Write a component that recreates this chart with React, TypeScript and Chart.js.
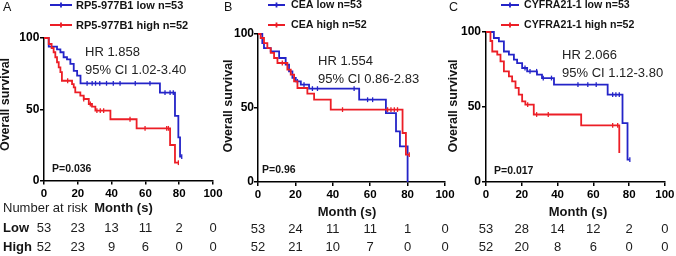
import React, { useEffect, useRef } from "react";
import { Chart, registerables } from "chart.js";

Chart.register(...registerables);

const FAMILY = '"Liberation Sans", Arial, Helvetica, sans-serif';
const BLUE = "#2424c8";
const RED = "#ec1e26";
const INK = "#141414";

// ---------- data ----------
const RISK_TIMES = [0, 20, 40, 60, 80, 100];

// Panel A: RP5-977B1
const A_LOW_T = [0, 2.8, 7.7, 9.7, 11.6, 13.6, 15.6, 17.6, 19.6, 21.6, 68.6, 77.5, 79.5, 80.5];
const A_LOW_S = [100, 94, 92, 90, 86.5, 85, 81.8, 77, 73.6, 68.2, 61.6, 45.3, 30.3, 16.7];
const A_LOW_END = 81.5;
const A_LOW_CENSOR = [25.5, 28.5, 30.5, 33, 37, 41, 45, 54, 62.7, 71.6, 74.6, 76.5, 81.5];
const A_HIGH_T = [0, 2.8, 4.5, 5.7, 6.7, 7.7, 8.7, 9.7, 10.6, 16.6, 17.6, 18.5, 21.5, 23.5, 26.5, 28.4, 30.4, 39.3, 54.8, 74.6, 77.5];
const A_HIGH_S = [100, 95.8, 93, 90, 86.5, 83, 79.4, 76, 70, 67.7, 65.4, 61.9, 59.5, 57.2, 53.7, 51.8, 49, 43, 36.6, 24.9, 12.5];
const A_HIGH_END = 79.5;
const A_HIGH_CENSOR = [14, 23.5, 27.4, 31.3, 33.3, 35.3, 50.9, 59.8, 72.6, 73.6, 79.5];
const A_RISK_LOW = [53, 23, 13, 11, 2, 0];
const A_RISK_HIGH = [52, 23, 9, 6, 0, 0];

// Panel B: CEA
const B_LOW_T = [0, 2.3, 3.2, 6.8, 11.3, 14.8, 16.6, 18.4, 20.2, 22.9, 27.3, 54.1, 68.4, 73.8, 75.9, 80];
const B_LOW_S = [100, 93.9, 90.5, 88.3, 83.8, 79.3, 74.8, 70.3, 68, 65.8, 63.1, 55.6, 46.6, 34.2, 24.1, 0];
const B_LOW_END = 80;
const B_LOW_CENSOR = [21.1, 24.6, 29.1, 31.8, 51.4, 58.6, 61.3];
const B_HIGH_T = [0, 1.4, 3.2, 5, 6.8, 8.6, 10.4, 15.7, 17.5, 19.3, 21.1, 26.4, 30, 38.9, 77.3, 79.1];
const B_HIGH_S = [100, 97.3, 93.9, 90.5, 87.2, 83.8, 80.4, 75.9, 72.5, 68, 63.5, 59.7, 55.6, 48.9, 33.1, 18.5];
const B_HIGH_END = 80.9;
const B_HIGH_CENSOR = [13, 45.2, 69.3, 71.1, 72.9, 74.6, 80.9];
const B_RISK_LOW = [53, 24, 11, 11, 1, 0];
const B_RISK_HIGH = [52, 21, 10, 7, 0, 0];

// Panel C: CYFRA21-1
const C_LOW_T = [0, 4.4, 7.2, 10, 12.8, 15.6, 17.4, 20.2, 23, 28.5, 31.3, 38, 68, 76.3, 79.1];
const C_LOW_S = [100, 96, 93.8, 87, 84.9, 81.6, 79.3, 76, 73.8, 71.6, 69.3, 64.9, 58.2, 39.3, 14.9];
const C_LOW_END = 80.4;
const C_LOW_CENSOR = [21.8, 24.6, 28.3, 32, 36.6, 51.4, 56.9, 61.6, 70.8, 72.6, 74.5, 80.4];
const C_HIGH_T = [0, 2.5, 3.5, 6.3, 8.1, 10, 12.8, 14.6, 16.5, 18.3, 20.2, 22, 26.7, 53.2, 74.5];
const C_HIGH_S = [100, 94, 87, 84.9, 80.4, 73.8, 70.4, 67.1, 62.7, 58.2, 53.8, 51.6, 45, 37.8, 19.3];
const C_HIGH_END = 74.5;
const C_HIGH_CENSOR = [23.3, 28.3, 34.8, 70.8, 73.6];
const C_RISK_LOW = [53, 28, 14, 12, 2, 0];
const C_RISK_HIGH = [52, 20, 8, 6, 0, 0];

// ---------- panel layout ----------
type Curve = { t: number[]; s: number[]; end: number; censor: number[] };
type Panel = {
  letter: string; letterX: number;
  area: { left: number; right: number; top: number; bottom: number };
  yPad: number; xPad: number;
  legLow: string; legHigh: string; legX1: number; legX2: number; legTextX: number; legFont: number;
  hr: string; ci: string; hrX: number; hrY1: number; hrY2: number;
  p: string; pX: number; pY: number;
  titleX: number; titleY: number;
  monthX: number; monthY: number;
  rowLowY: number; rowHighY: number;
  riskLabels: boolean;
  low: Curve; high: Curve;
  riskLow: number[]; riskHigh: number[];
};

const PANELS: Panel[] = [
  {
    letter: "A", letterX: 3,
    area: { left: 44, right: 213, top: 38, bottom: 180.5 },
    yPad: 0.7, xPad: 2,
    legLow: "RP5-977B1 low n=53", legHigh: "RP5-977B1 high n=52", legX1: 50, legX2: 72, legTextX: 76, legFont: 11,
    hr: "HR 1.858", ci: "95% CI 1.02-3.40", hrX: 85, hrY1: 52.7, hrY2: 70,
    p: "P=0.036", pX: 52, pY: 169.5,
    titleX: 6, titleY: 104.5,
    monthX: 123.5, monthY: 208.5,
    rowLowY: 228.5, rowHighY: 247.5,
    riskLabels: true,
    low: { t: A_LOW_T, s: A_LOW_S, end: A_LOW_END, censor: A_LOW_CENSOR },
    high: { t: A_HIGH_T, s: A_HIGH_S, end: A_HIGH_END, censor: A_HIGH_CENSOR },
    riskLow: A_RISK_LOW, riskHigh: A_RISK_HIGH,
  },
  {
    letter: "B", letterX: 224,
    area: { left: 258, right: 445, top: 34, bottom: 182 },
    yPad: 0, xPad: 1.5,
    legLow: "CEA low n=53", legHigh: "CEA high n=52", legX1: 268, legX2: 285, legTextX: 291, legFont: 10.7,
    hr: "HR 1.554", ci: "95% CI 0.86-2.83", hrX: 318, hrY1: 61.5, hrY2: 79.5,
    p: "P=0.96", pX: 262, pY: 170,
    titleX: 229, titleY: 106,
    monthX: 347, monthY: 212.5,
    rowLowY: 229, rowHighY: 247.7,
    riskLabels: false,
    low: { t: B_LOW_T, s: B_LOW_S, end: B_LOW_END, censor: B_LOW_CENSOR },
    high: { t: B_HIGH_T, s: B_HIGH_S, end: B_HIGH_END, censor: B_HIGH_CENSOR },
    riskLow: B_RISK_LOW, riskHigh: B_RISK_HIGH,
  },
  {
    letter: "C", letterX: 449,
    area: { left: 486, right: 666, top: 32, bottom: 182 },
    yPad: 1, xPad: 1.5,
    legLow: "CYFRA21-1 low n=53", legHigh: "CYFRA21-1 high n=52", legX1: 501, legX2: 519, legTextX: 524, legFont: 10.6,
    hr: "HR 2.066", ci: "95% CI 1.12-3.80", hrX: 562, hrY1: 55.3, hrY2: 73,
    p: "P=0.017", pX: 494, pY: 170.7,
    titleX: 453.5, titleY: 106,
    monthX: 578, monthY: 212.5,
    rowLowY: 229, rowHighY: 247.7,
    riskLabels: false,
    low: { t: C_LOW_T, s: C_LOW_S, end: C_LOW_END, censor: C_LOW_CENSOR },
    high: { t: C_HIGH_T, s: C_HIGH_S, end: C_HIGH_END, censor: C_HIGH_CENSOR },
    riskLow: C_RISK_LOW, riskHigh: C_RISK_HIGH,
  },
];

const W = 676;
const H = 256;
const Y_AXIS_W = 30;
const X_AXIS_H = 20;

function survAt(t: number[], s: number[], x: number) {
  let v = s[0];
  for (let i = 0; i < t.length; i++) if (t[i] <= x) v = s[i];
  return v;
}

function stepData(c: Curve) {
  const d = c.t.map((t, i) => ({ x: t, y: c.s[i] }));
  if (c.end > c.t[c.t.length - 1]) d.push({ x: c.end, y: c.s[c.s.length - 1] });
  return d;
}

function censorData(c: Curve) {
  return c.censor.map((t) => ({ x: t, y: survAt(c.t, c.s, t) }));
}

function font(size: number, bold = false) {
  return `${bold ? "bold " : ""}${size}px ${FAMILY}`;
}

function makeChart(canvas: HTMLCanvasElement, p: Panel) {
  const lineDs = (data: any[], color: string) => ({
    data, borderColor: color, backgroundColor: color, borderWidth: 1.8,
    stepped: "before" as const, pointRadius: 0, fill: false, tension: 0, clip: false as any,
  });
  const censDs = (data: any[], color: string) => ({
    data, showLine: false, borderColor: color, backgroundColor: color,
    pointStyle: "line" as const, rotation: 90, pointRadius: 2.4, pointBorderWidth: 1.3, clip: false as any,
  });

  const textPlugin = {
    id: "panelText" + p.letter,
    afterDraw(chart: any) {
      const ctx: CanvasRenderingContext2D = chart.ctx;
      const xs = chart.scales.x;
      ctx.save();
      ctx.fillStyle = INK;
      ctx.textBaseline = "middle";
      ctx.textAlign = "left";
      // panel letter
      ctx.font = font(12.5);
      ctx.fillText(p.letter, p.letterX, 8);
      // legend
      const leg = [
        { text: p.legLow, color: BLUE, y: 5 },
        { text: p.legHigh, color: RED, y: 25 },
      ];
      for (const l of leg) {
        ctx.strokeStyle = l.color;
        ctx.lineWidth = 1.8;
        ctx.beginPath();
        ctx.moveTo(p.legX1, l.y);
        ctx.lineTo(p.legX2, l.y);
        const mid = (p.legX1 + p.legX2) / 2;
        ctx.moveTo(mid, l.y - 2.6);
        ctx.lineTo(mid, l.y + 2.6);
        ctx.stroke();
        ctx.fillStyle = INK;
        ctx.font = font(p.legFont, true);
        ctx.fillText(l.text, p.legTextX, l.y + 0.5);
      }
      // HR + CI
      ctx.font = font(13);
      ctx.fillStyle = "#222";
      ctx.fillText(p.hr, p.hrX, p.hrY1);
      ctx.fillText(p.ci, p.hrX, p.hrY2);
      // P value
      ctx.fillStyle = INK;
      ctx.font = font(10.5, true);
      ctx.fillText(p.p, p.pX, p.pY);
      // y title
      ctx.save();
      ctx.translate(p.titleX, p.titleY);
      ctx.rotate(-Math.PI / 2);
      ctx.textAlign = "center";
      ctx.font = font(12.5, true);
      ctx.fillText("Overall survival", 0, 0);
      ctx.restore();
      // x title
      ctx.textAlign = "center";
      ctx.font = font(13, true);
      ctx.fillText("Month (s)", p.monthX, p.monthY);
      // number at risk
      ctx.font = font(13);
      ctx.fillStyle = "#1c1c1c";
      RISK_TIMES.forEach((t, i) => {
        const x = xs.getPixelForValue(t);
        ctx.fillText(String(p.riskLow[i]), x, p.rowLowY);
        ctx.fillText(String(p.riskHigh[i]), x, p.rowHighY);
      });
      if (p.riskLabels) {
        ctx.textAlign = "left";
        ctx.font = font(13);
        ctx.fillText("Number at risk", 3, p.monthY);
        ctx.font = font(13, true);
        ctx.fillStyle = INK;
        ctx.fillText("Low", 3, p.rowLowY);
        ctx.fillText("High", 3, p.rowHighY);
      }
      ctx.restore();
    },
  };

  const axisCommon = {
    grid: { drawOnChartArea: false, drawTicks: true, tickLength: 4, color: "#000", lineWidth: 1.5 },
    border: { color: "#000", width: 1.5 },
  };

  return new Chart(canvas, {
    type: "line",
    data: {
      datasets: [
        lineDs(stepData(p.high), RED) as any,
        censDs(censorData(p.high), RED) as any,
        lineDs(stepData(p.low), BLUE) as any,
        censDs(censorData(p.low), BLUE) as any,
      ],
    },
    options: {
      animation: false,
      responsive: false,
      events: [],
      layout: {
        padding: {
          left: p.area.left - Y_AXIS_W,
          right: W - p.area.right,
          top: p.area.top,
          bottom: H - p.area.bottom - X_AXIS_H,
        },
      },
      plugins: { legend: { display: false }, tooltip: { enabled: false }, title: { display: false } },
      scales: {
        x: {
          type: "linear", min: 0, max: 100,
          afterFit: (s: any) => { s.height = X_AXIS_H; },
          ticks: { stepSize: 20, autoSkip: false, maxRotation: 0, padding: p.xPad, color: "#000", font: { family: FAMILY, size: 11.5, weight: "bold" } },
          ...axisCommon,
        },
        y: {
          type: "linear", min: 0, max: 100,
          afterFit: (s: any) => { s.width = Y_AXIS_W; },
          ticks: { stepSize: 50, padding: p.yPad, color: "#000", font: { family: FAMILY, size: 12, weight: "bold" } },
          ...axisCommon,
        },
      },
    } as any,
    plugins: [textPlugin],
  });
}

function PanelCanvas({ panel }: { panel: Panel }) {
  const ref = useRef<HTMLCanvasElement | null>(null);
  useEffect(() => {
    if (!ref.current) return;
    const chart = makeChart(ref.current, panel);
    return () => chart.destroy();
  }, [panel]);
  return (
    <canvas
      ref={ref}
      width={W}
      height={H}
      style={{ position: "absolute", left: 0, top: 0, width: W, height: H }}
    />
  );
}

export default function App() {
  useEffect(() => {
    document.body.style.margin = "0";
    document.body.style.background = "#fff";
  }, []);
  return (
    <div style={{ position: "absolute", left: 0, top: 0, width: W, height: H, background: "#fff", overflow: "hidden" }}>
      {PANELS.map((p) => (
        <PanelCanvas key={p.letter} panel={p} />
      ))}
    </div>
  );
}
